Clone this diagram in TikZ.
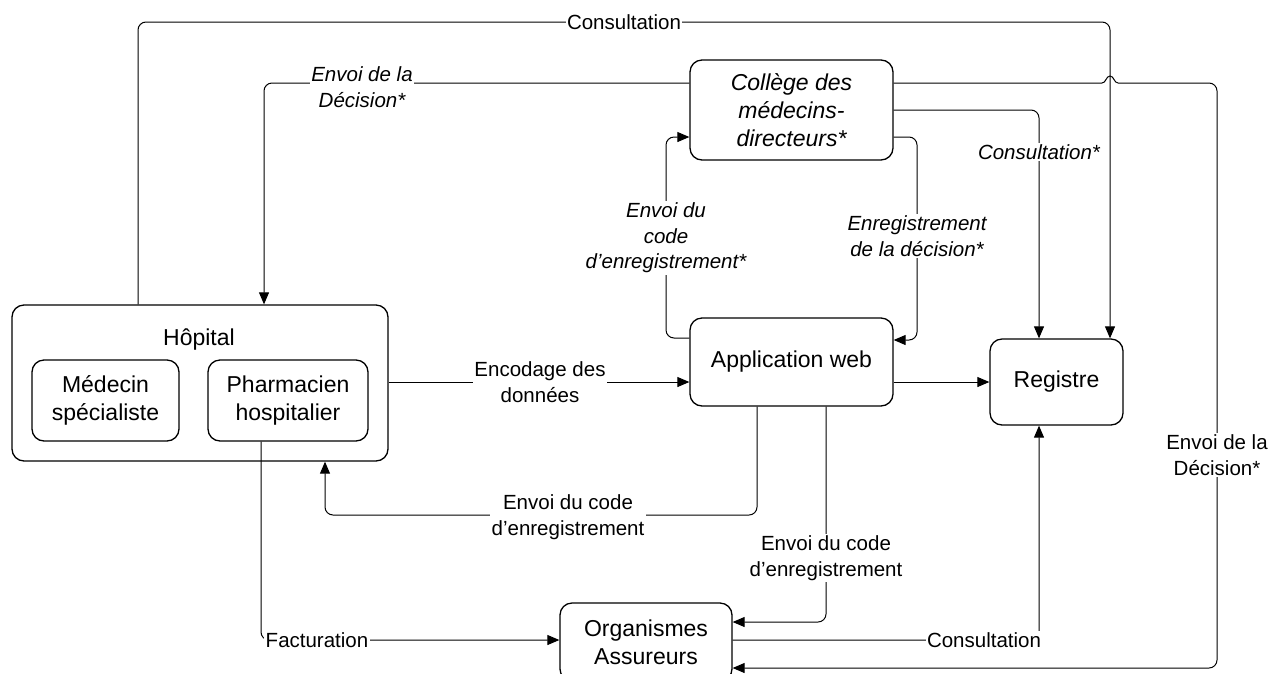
\documentclass[tikz,border=0pt]{standalone}
\usepackage{fontspec}
\setmainfont{Liberation Sans}
\usetikzlibrary{arrows.meta}
\newcommand{\boxfont}{\fontsize{23}{28}\selectfont}
\newcommand{\labfont}{\fontsize{20.5}{25.5}\selectfont}
\begin{document}
\begin{tikzpicture}[x=1pt,y=-1pt,
  box/.style={draw, rounded corners=12pt, line width=1.3pt, align=center, inner sep=0pt, font=\boxfont},
  conn/.style={draw, line width=1pt, rounded corners=8pt},
  arr/.style={conn, -{Triangle[length=12pt,width=10pt]}},
  lab/.style={fill=white, inner sep=1.5pt, align=center, font=\labfont},
  ilab/.style={lab, font=\labfont\itshape}]
\useasboundingbox (0,0) rectangle (1268,673);

% nodes
\node[box, minimum width=376pt, minimum height=156pt] (hop) at (200,383) {};
\node[font=\boxfont] (hoptxt) at (199,340) {Hôpital};
\node[box, minimum width=147pt, minimum height=81pt] (med) at (105.5,400.5) {Médecin\\spécialiste};
\node[box, minimum width=160pt, minimum height=81pt] (pha) at (288,400.5) {Pharmacien\\hospitalier};
\node[box, minimum width=203pt, minimum height=100pt, font=\boxfont\itshape] (col) at (791.5,110) {Collège des\\médecins-\\directeurs*};
\node[box, minimum width=203pt, minimum height=88pt] (app) at (791.5,362) {Application web};
\node[box, minimum width=133pt, minimum height=86pt] (reg) at (1056.5,382) {Registre};
\node[box, minimum width=172pt, minimum height=78pt] (org) at (646,642) {Organismes\\Assureurs};

% bend coordinates
\coordinate (t1) at (138,22);
\coordinate (t2) at (1110,22);
\coordinate (e1) at (264,83);
\coordinate (h1) at (1102,83);
\coordinate (h2) at (1118,83);
\coordinate (r1) at (1217,83);
\coordinate (r2) at (1217,668);
\coordinate (k1) at (1039,110);
\coordinate (m1) at (917,137);
\coordinate (m2) at (917,340);
\coordinate (n1) at (666,338);
\coordinate (n2) at (666,137);
\coordinate (q1) at (540,382);
\coordinate (p1) at (757,515);
\coordinate (p2) at (325,515);
\coordinate (s1) at (826,622);
\coordinate (f1) at (261,640);
\coordinate (g1) at (1039,640);

% connectors
\draw[arr] (hop.north -| t1) -- (t1) -- (t2) -- (reg.north -| t2);
\draw[arr] (col.west |- e1) -- (e1) -- (hop.north -| e1);
\draw[line width=1pt] (col.east |- h1) -- (h1) .. controls (1106,83) and (1106,76) .. (1110,76) .. controls (1114,76) and (1114,83) .. (h2);
\draw[arr] (h2) -- (r1) -- (r2) -- (org.east |- r2);
\draw[arr] (col.east |- k1) -- (k1) -- (reg.north -| k1);
\draw[arr] (col.east |- m1) -- (m1) -- (m2) -- (app.east |- m2);
\draw[arr] (app.west |- n1) -- (n1) -- (n2) -- (col.west |- n2);
\draw[arr] (hop.east |- q1) -- (app.west |- q1);
\draw[arr] (app.east |- q1) -- (reg.west |- q1);
\draw[arr] (app.south -| p1) -- (p1) -- (p2) -- (hop.south -| p2);
\draw[arr] (app.south -| s1) -- (s1) -- (org.east |- s1);
\draw[arr] (pha.south -| f1) -- (f1) -- (org.west |- f1);
\draw[arr] (org.east |- g1) -- (g1) -- (reg.south -| g1);

% labels
\node[lab] (l1) at (624,22) {Consultation};
\node[ilab] (l2) at (362,87) {Envoi de la\\Décision*};
\node[lab] (l3) at (1217,455) {Envoi de la\\Décision*};
\node[ilab] (l4) at (1039,152) {Consultation*};
\node[ilab] (l5) at (917,236) {Enregistrement\\de la décision*};
\node[ilab] (l6) at (666,238) {Envoi du\\code\\d’enregistrement*};
\node[lab] (l7) at (540,382) {Encodage des\\données};
\node[lab] (l9) at (568,517) {Envoi du code\\d’enregistrement};
\node[lab] (l10) at (826,558) {Envoi du code\\d’enregistrement};
\node[lab] (l11) at (317,640) {Facturation};
\node[lab] (l12) at (984,640) {Consultation};
\end{tikzpicture}
\end{document}
